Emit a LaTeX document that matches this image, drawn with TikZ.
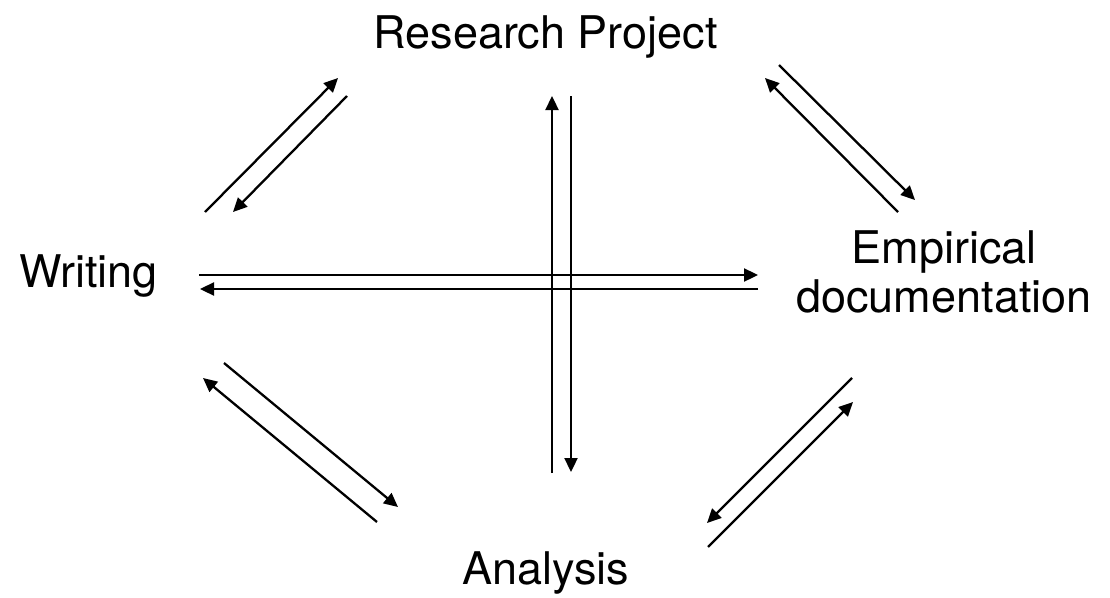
\documentclass[tikz,border=0pt]{standalone}
\usepackage{fontspec}
\setmainfont{TeX Gyre Heros}
\usetikzlibrary{arrows.meta}
\begin{document}
\begin{tikzpicture}[x=1pt,y=-1pt,
  lbl/.style={inner sep=0pt,anchor=base,font=\fontsize{45}{49}\selectfont},
  conn/.style={line width=2.3pt,-{Triangle[length=14pt,width=13pt]}}]
\useasboundingbox (0,0) rectangle (1110,597);
\node[lbl] (rp) at (545.5,48) {Research Project};
\node[lbl] (wr) at (88.5,287) {Writing};
\node[lbl] (an) at (546,584) {Analysis};
\node[lbl] (em) at (944,263) {\begin{tabular}[t]{@{}c@{}}Empirical\\documentation\end{tabular}};
% endpoints
\coordinate (a1) at (205,212); \coordinate (a2) at (338,78);
\coordinate (b1) at (347,96);  \coordinate (b2) at (233,212);
\coordinate (c1) at (779,65);  \coordinate (c2) at (915,200);
\coordinate (d1) at (898,212); \coordinate (d2) at (765,78);
\coordinate (e1) at (852,378); \coordinate (e2) at (707,523);
\coordinate (f1) at (708,547); \coordinate (f2) at (853,402);
\coordinate (g1) at (224,363); \coordinate (g2) at (398,507);
\coordinate (h1) at (377,522); \coordinate (h2) at (203,378);
\coordinate (v1) at (552,473); \coordinate (v2) at (552,96);
\coordinate (w1) at (571,96);  \coordinate (w2) at (571,472);
\coordinate (r1) at (199,275); \coordinate (r2) at (758,275);
\coordinate (l1) at (758,289); \coordinate (l2) at (200,289);
\draw[conn] (a1) -- (a2);
\draw[conn] (b1) -- (b2);
\draw[conn] (c1) -- (c2);
\draw[conn] (d1) -- (d2);
\draw[conn] (e1) -- (e2);
\draw[conn] (f1) -- (f2);
\draw[conn] (g1) -- (g2);
\draw[conn] (h1) -- (h2);
\draw[conn] (v1) -- (v2);
\draw[conn] (w1) -- (w2);
\draw[conn] (r1) -- (r2);
\draw[conn] (l1) -- (l2);
\end{tikzpicture}
\end{document}
